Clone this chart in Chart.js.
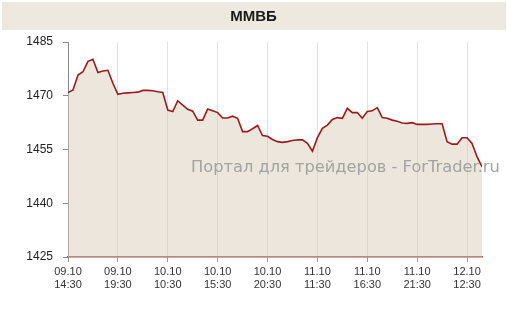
<!DOCTYPE html>
<html>
<head>
<meta charset="utf-8">
<script src="https://cdn.jsdelivr.net/npm/chart.js@4.4.0/dist/chart.umd.min.js"></script>
<style>
html,body{margin:0;padding:0;background:#fff;}
#wrap{width:507px;height:310px;}
</style>
</head>
<body>
<div id="wrap"><canvas id="c" width="507" height="310"></canvas></div>
<script>
const chartTitle = 'ММВБ';
const watermark = 'Портал для трейдеров - ForTrader.ru';
const tickLabels = [
  ['09.10','14:30'], ['09.10','19:30'], ['10.10','10:30'], ['10.10','15:30'],
  ['10.10','20:30'], ['11.10','11:30'], ['11.10','16:30'], ['11.10','21:30'], ['12.10','12:30']
];
const pointsPerTick = 10;
const values = [
  1470.9, 1471.6, 1475.8, 1476.7, 1479.6, 1480.2, 1476.5, 1476.9, 1477.1, 1473.5,
  1470.4, 1470.7, 1470.8, 1470.9, 1471.0, 1471.5, 1471.5, 1471.4, 1471.1, 1470.9,
  1466.0, 1465.6, 1468.6, 1467.4, 1466.2, 1465.7, 1463.2, 1463.2, 1466.3, 1465.8,
  1465.3, 1463.8, 1463.8, 1464.3, 1463.7, 1460.0, 1460.0, 1460.8, 1461.7, 1458.9,
  1458.7, 1457.8, 1457.2, 1457.0, 1457.2, 1457.5, 1457.7, 1457.7, 1456.7, 1454.5,
  1458.3, 1460.9, 1461.8, 1463.4, 1463.9, 1463.7, 1466.5, 1465.3, 1465.3, 1463.7,
  1465.6, 1465.8, 1466.7, 1463.9, 1463.7, 1463.2, 1462.9, 1462.4, 1462.3, 1462.5,
  1462.0, 1462.0, 1462.0, 1462.1, 1462.2, 1462.2, 1457.2, 1456.5, 1456.5, 1458.3,
  1458.3, 1456.7, 1453.0, 1450.2
];
const yMin = 1425, yMax = 1485, yStep = 15;

const points = values.map((v, i) => ({x: i, y: v}));

const bgPlugin = {
  id: 'bg',
  beforeDraw(chart) {
    const ctx = chart.ctx;
    ctx.save();
    ctx.fillStyle = '#ffffff';
    ctx.fillRect(0, 0, chart.width, chart.height);
    ctx.fillStyle = '#ede9df';
    ctx.fillRect(2, 2, chart.width - 3, 28);
    ctx.fillStyle = '#1a1a1a';
    ctx.font = 'bold 15px "Liberation Sans", Arial, sans-serif';
    ctx.textAlign = 'center';
    ctx.textBaseline = 'middle';
    ctx.fillText(chartTitle, chart.width / 2, 17);
    ctx.restore();
  },
  afterDraw(chart) {
    const ctx = chart.ctx;
    ctx.save();
    ctx.font = '100px "DejaVu Sans", Verdana, sans-serif';
    const w = ctx.measureText(watermark).width;
    const size = 100 * 309 / w;
    ctx.font = size.toFixed(2) + 'px "DejaVu Sans", Verdana, sans-serif';
    ctx.fillStyle = '#a3a3a3';
    ctx.textAlign = 'left';
    ctx.textBaseline = 'alphabetic';
    ctx.fillText(watermark, 191, 172);
    ctx.restore();
  }
};

new Chart(document.getElementById('c'), {
  type: 'line',
  data: {
    datasets: [{
      data: points,
      borderColor: '#9c1a1a',
      borderWidth: 1.6,
      backgroundColor: 'rgba(212,200,178,0.45)',
      fill: 'start',
      pointRadius: 0,
      tension: 0
    }]
  },
  options: {
    responsive: false,
    animation: false,
    devicePixelRatio: 1,
    layout: {padding: {left: 0, right: 25, top: 42, bottom: 0}},
    plugins: {legend: {display: false}, title: {display: false}, tooltip: {enabled: false}},
    scales: {
      x: {
        type: 'linear',
        min: 0,
        max: values.length - 1,
        afterFit(s) { s.height = 53; },
        afterBuildTicks(s) {
          s.ticks = tickLabels.map((_, i) => ({value: i * pointsPerTick}));
        },
        ticks: {
          autoSkip: false,
          maxRotation: 0,
          padding: 3,
          color: '#333333',
          font: {family: '"Liberation Sans", Arial, sans-serif', size: 11},
          callback: (v) => tickLabels[Math.round(v / pointsPerTick)]
        },
        grid: {color: '#e2e2e2', lineWidth: 1, tickLength: 5, tickColor: '#9a9a9a', drawTicks: true},
        border: {color: '#a4554f', width: 1.5}
      },
      y: {
        min: yMin,
        max: yMax,
        afterFit(s) { s.width = 68; },
        ticks: {
          stepSize: yStep,
          padding: 10,
          color: '#222222',
          font: {family: '"Liberation Sans", Arial, sans-serif', size: 12},
          callback: (v) => String(v)
        },
        grid: {drawOnChartArea: false, drawTicks: true, tickLength: 5, tickColor: '#8a8a8a'},
        border: {color: '#8a8a8a', width: 1}
      }
    }
  },
  plugins: [bgPlugin]
});
</script>
</body>
</html>
